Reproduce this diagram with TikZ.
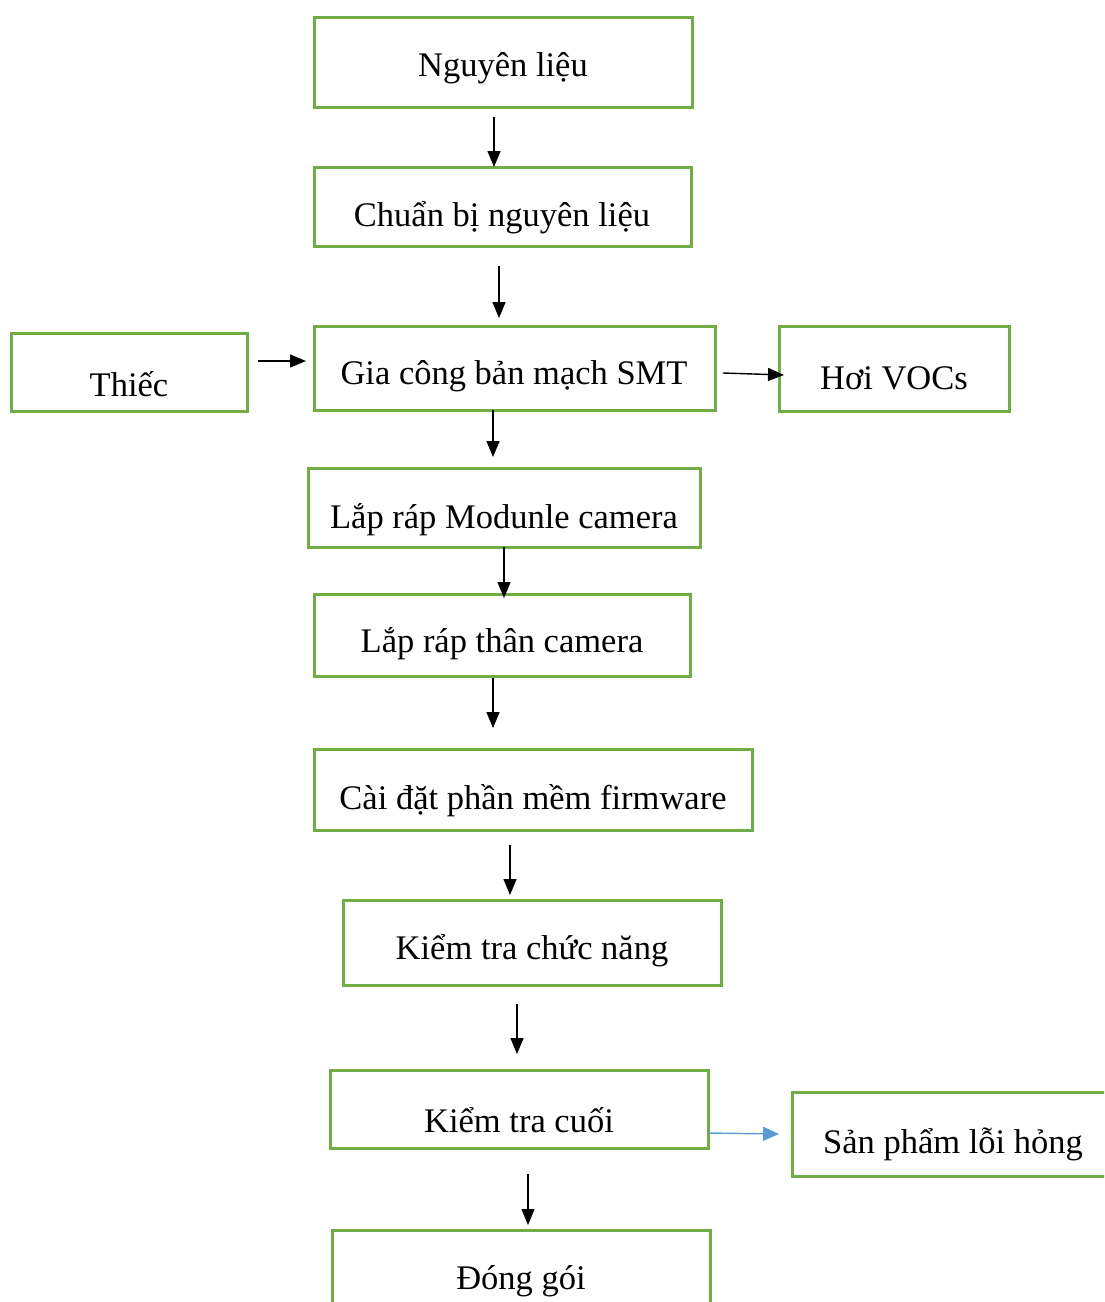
\documentclass[tikz,border=0pt]{standalone}
\usepackage{fontspec}
\setmainfont{Liberation Serif}
\usetikzlibrary{arrows.meta}
\definecolor{boxgreen}{HTML}{70AD47}
\definecolor{flowblue}{HTML}{5B9BD5}
\tikzset{
  box/.style={draw=boxgreen, line width=3pt, rectangle, inner sep=0pt},
  txt/.style={inner sep=0pt, font=\fontsize{34.5}{40}\selectfont},
  flow/.style={line width=1.4pt, -{Triangle[length=16pt,width=13pt]}},
  reject/.style={flow, draw=flowblue, -{Triangle[length=16pt,width=14pt,fill=flowblue]}}
}
\begin{document}
\begin{tikzpicture}[x=1pt,y=-1pt]
\useasboundingbox (0,0) rectangle (1104,1302);
\clip (0,0) rectangle (1104,1302);
% process boxes (centre, width, height)
\node[box, minimum width=378pt, minimum height=90pt] (b1) at (503,62) {};
\node[box, minimum width=377pt, minimum height=79pt] (b2) at (502.5,206.5) {};
\node[box, minimum width=236pt, minimum height=78pt] (b3) at (129,372) {};
\node[box, minimum width=401pt, minimum height=84pt] (b4) at (514.5,368) {};
\node[box, minimum width=230pt, minimum height=85pt] (b5) at (894,368.5) {};
\node[box, minimum width=392pt, minimum height=79pt] (b6) at (504,507.5) {};
\node[box, minimum width=376pt, minimum height=82pt] (b7) at (502,635) {};
\node[box, minimum width=438pt, minimum height=81pt] (b8) at (533,789.5) {};
\node[box, minimum width=378pt, minimum height=85pt] (b9) at (532,942.5) {};
\node[box, minimum width=378pt, minimum height=78pt] (b10) at (519,1109) {};
\node[box, minimum width=320pt, minimum height=84pt] (b11) at (952,1134) {};
\node[box, minimum width=378pt, minimum height=110pt] (b12) at (521,1285) {};
% labels
\node[txt] (t1) at (503,68) {Nguyên liệu};
\node[txt] (t2) at (502,218) {Chuẩn bị nguyên liệu};
\node[txt] (t3) at (129,384) {Thiếc};
\node[txt] (t4) at (514,376) {Gia công bản mạch SMT};
\node[txt] (t5) at (894,378) {Hơi VOCs};
\node[txt] (t6) at (504,520) {Lắp ráp Modunle camera};
\node[txt] (t7) at (502,644) {Lắp ráp thân camera};
\node[txt] (t8) at (533,801) {Cài đặt phần mềm firmware};
\node[txt] (t9) at (532,951) {Kiểm tra chức năng};
\node[txt] (t10) at (519,1120) {Kiểm tra cuối};
\node[txt] (t11) at (953,1144) {Sản phẩm lỗi hỏng};
\node[txt] (t12) at (521,1281) {Đóng gói};
% arrow end points in the gaps between boxes
\coordinate (s1) at (494,117);  \coordinate (e1) at (494,167);
\coordinate (s2) at (499,266);  \coordinate (e2) at (499,318);
\coordinate (s3) at (258,361);  \coordinate (e3) at (306,361);
\coordinate (s4) at (723,373);  \coordinate (e4) at (784,375);
\coordinate (s5) at (493,410);  \coordinate (e5) at (493,457);
\coordinate (s6) at (504,547);  \coordinate (e6) at (504,598);
\coordinate (s7) at (493,678);  \coordinate (e7) at (493,728);
\coordinate (s8) at (510,845);  \coordinate (e8) at (510,895);
\coordinate (s9) at (517,1004); \coordinate (e9) at (517,1054);
\coordinate (s10) at (708,1133); \coordinate (e10) at (779,1134);
\coordinate (s11) at (528,1174); \coordinate (e11) at (528,1225);
% connectors
\draw[flow] (s1) -- (e1);
\draw[flow] (s2) -- (e2);
\draw[flow] (s3) -- (e3);
\draw[flow] (s4) -- (e4);
\draw[flow] (s5) -- (e5);
\draw[flow] (s6) -- (e6);
\draw[flow] (s7) -- (e7);
\draw[flow] (s8) -- (e8);
\draw[flow] (s9) -- (e9);
\draw[reject] (s10) -- (e10);
\draw[flow] (s11) -- (e11);
\end{tikzpicture}
\end{document}
